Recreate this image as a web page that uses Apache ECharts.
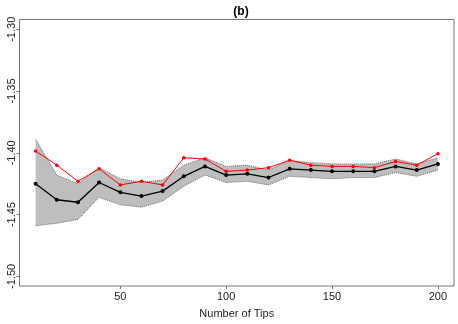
<!DOCTYPE html>
<html>
<head>
<meta charset="utf-8">
<script src="https://cdn.jsdelivr.net/npm/echarts@6/dist/echarts.min.js"></script>
<style>html,body{margin:0;padding:0;background:#fff}#c{width:458px;height:324px}</style>
</head>
<body>
<div id="c"></div>
<script>
const tips = [10,20,30,40,50,60,70,80,90,100,110,120,130,140,150,160,170,180,190,200];
const meanVals = [-1.425,-1.438,-1.440,-1.424,-1.432,-1.435,-1.431,-1.419,-1.411,-1.418,-1.417,-1.420,-1.413,-1.414,-1.415,-1.415,-1.415,-1.411,-1.414,-1.409];
const redVals = [-1.3985,-1.410,-1.423,-1.413,-1.426,-1.423,-1.426,-1.404,-1.405,-1.415,-1.414,-1.412,-1.406,-1.410,-1.411,-1.411,-1.412,-1.407,-1.410,-1.4007];
const upperVals = [-1.389,-1.418,-1.425,-1.412,-1.421,-1.424,-1.422,-1.410,-1.404,-1.411,-1.410,-1.414,-1.406,-1.408,-1.409,-1.409,-1.409,-1.405,-1.409,-1.404];
const lowerVals = [-1.459,-1.457,-1.454,-1.436,-1.442,-1.444,-1.439,-1.427,-1.418,-1.424,-1.423,-1.426,-1.419,-1.420,-1.421,-1.420,-1.420,-1.416,-1.419,-1.414];
const xTicks = [50,100,150,200];
const yTicks = [-1.50,-1.45,-1.40,-1.35,-1.30];

const pair = arr => tips.map((t,i)=>[t,arr[i]]);
const FONT = 'Liberation Sans';
const chart = echarts.init(document.getElementById('c'), null, {renderer:'canvas'});
chart.setOption({
  animation:false,
  backgroundColor:'#fff',
  title:{text:'(b)', left:236, top:1, textAlign:'center',
    textStyle:{fontFamily:FONT, fontSize:12, fontWeight:'bold', color:'#000'}},
  grid:{left:19.5, right:4, top:19.5, bottom:36, show:true, borderColor:'#777', borderWidth:1, backgroundColor:'transparent'},
  xAxis:{type:'value', min:2.4, max:207.6,
    name:'Number of Tips', nameLocation:'middle', nameGap:22,
    nameTextStyle:{fontFamily:FONT, fontSize:11, color:'#222'},
    axisLine:{show:false},
    splitLine:{show:false},
    axisTick:{show:true, length:3, lineStyle:{color:'#777'}, customValues:xTicks},
    axisLabel:{fontFamily:FONT, fontSize:11, color:'#222', margin:5, customValues:xTicks}
  },
  yAxis:{type:'value', min:-1.5078, max:-1.2921,
    axisLine:{show:false},
    splitLine:{show:false},
    axisTick:{show:true, length:3, lineStyle:{color:'#777'}, customValues:yTicks},
    axisLabel:{fontFamily:FONT, fontSize:11, color:'#222', rotate:90, margin:2, customValues:yTicks,
      formatter:v=>v.toFixed(2)}
  },
  series:[
    {type:'custom', data:[0], silent:true, z:1,
      renderItem:(params, api)=>{
        const pts = [];
        for (let i=0;i<tips.length;i++) pts.push(api.coord([tips[i], upperVals[i]]));
        for (let i=tips.length-1;i>=0;i--) pts.push(api.coord([tips[i], lowerVals[i]]));
        return {type:'polygon', shape:{points:pts}, style:{fill:'#bebebe', stroke:null}};
      }},
    {type:'line', data:pair(upperVals), symbol:'none', z:2, lineStyle:{color:'#666', width:1, type:'dotted'}},
    {type:'line', data:pair(lowerVals), symbol:'none', z:2, lineStyle:{color:'#666', width:1, type:'dotted'}},
    {type:'line', data:pair(meanVals), symbol:'circle', symbolSize:4, z:3, itemStyle:{color:'#000'},
      lineStyle:{color:'#000', width:1.3}},
    {type:'line', data:pair(redVals), symbol:'circle', symbolSize:3.5, z:4, itemStyle:{color:'#ff0000'},
      lineStyle:{color:'#ff0000', width:1}}
  ]
});
</script>
</body>
</html>
